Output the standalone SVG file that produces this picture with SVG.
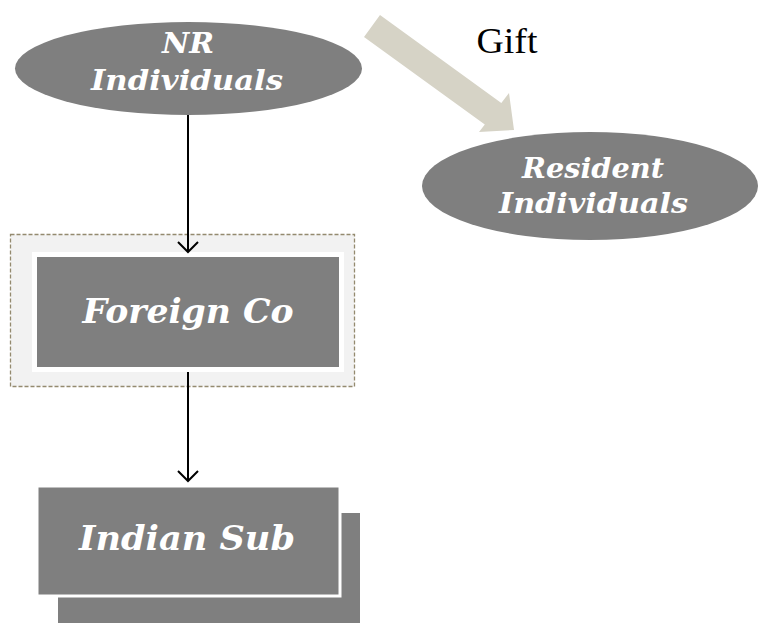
<svg xmlns="http://www.w3.org/2000/svg" width="758" height="623" viewBox="0 0 758 623">
  <defs>
    <style>
      .shape { fill: #7f7f7f; }
      .label { fill: #ffffff; font-family: "DejaVu Serif", "Liberation Serif", serif; font-weight: bold; font-style: italic; text-anchor: middle; }
      .conn { stroke: #000000; stroke-width: 2; fill: none; }
    </style>
  </defs>
  <rect width="758" height="623" fill="#ffffff"/>

  <!-- NR individuals -->
  <g id="nr-individuals">
    <ellipse class="shape" cx="188.5" cy="68.5" rx="173.5" ry="46.5"/>
    <text class="label" x="188" y="53" font-size="27" textLength="52" lengthAdjust="spacingAndGlyphs">NR</text>
    <text class="label" x="187" y="90" font-size="27" textLength="192" lengthAdjust="spacingAndGlyphs">Individuals</text>
  </g>

  <!-- resident individuals -->
  <g id="resident-individuals">
    <ellipse class="shape" cx="590" cy="186" rx="168" ry="54"/>
    <text class="label" x="593" y="178" font-size="27" textLength="142" lengthAdjust="spacingAndGlyphs">Resident</text>
    <text class="label" x="593.5" y="213" font-size="27" textLength="189" lengthAdjust="spacingAndGlyphs">Individuals</text>
  </g>

  <!-- foreign company -->
  <g id="foreign-co">
    <rect x="10.5" y="234.5" width="344" height="152" fill="#f2f2f2" stroke="#948a6f" stroke-width="1.3" stroke-dasharray="4,2"/>
    <rect x="32" y="252" width="312" height="120" fill="#ffffff"/>
    <rect class="shape" x="37" y="257" width="302" height="110"/>
    <text class="label" x="188" y="323" font-size="33" textLength="211" lengthAdjust="spacingAndGlyphs">Foreign Co</text>
  </g>

  <!-- indian subsidiary -->
  <g id="indian-sub">
    <rect class="shape" x="58" y="513" width="302" height="115"/>
    <rect class="shape" x="37" y="486" width="303" height="110" stroke="#ffffff" stroke-width="3"/>
    <text class="label" x="187" y="550" font-size="33" textLength="216" lengthAdjust="spacingAndGlyphs">Indian Sub</text>
  </g>

  <!-- connectors -->
  <g id="connectors">
    <line class="conn" x1="188" y1="115" x2="188" y2="252"/>
    <path d="M178,242 L188,252 L198,242" class="conn"/>
    <line class="conn" x1="188" y1="372" x2="188" y2="481"/>
    <path d="M178,471 L188,481 L198,471" class="conn"/>
    <!-- gift block arrow -->
    <polygon points="380,15 501.3,102.9 509,93 514,130 479,132 484.8,124.5 364,37" fill="#d6d3c6"/>
    <text x="507" y="53" font-family="Liberation Serif, serif" font-size="35" fill="#000" text-anchor="middle" textLength="61" lengthAdjust="spacingAndGlyphs">Gift</text>
  </g>
</svg>
